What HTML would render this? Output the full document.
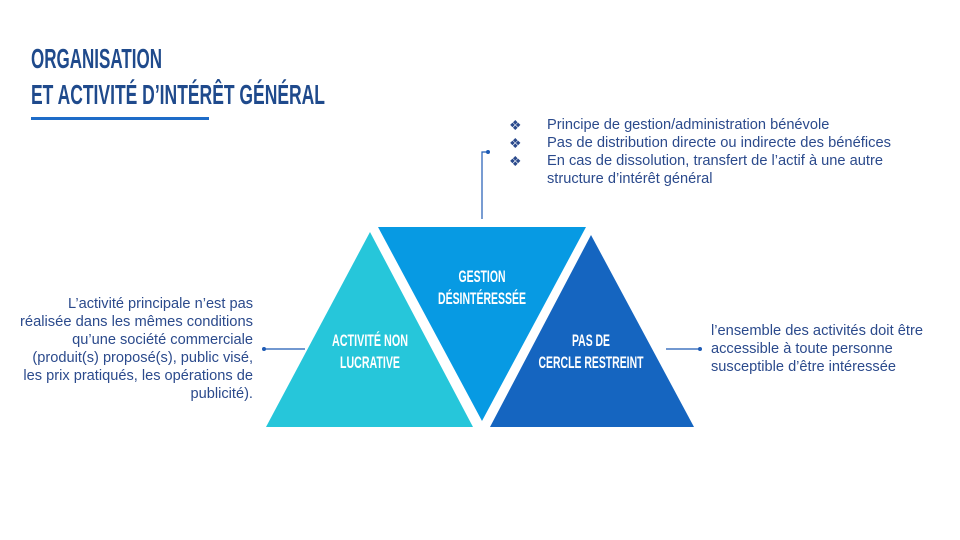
<!DOCTYPE html>
<html><head><meta charset="utf-8"><style>
html,body{margin:0;padding:0;background:#fff;}
svg{display:block;}
.t{font-family:"Liberation Sans",sans-serif;font-size:14.6px;fill:#2b4a8c;}
.h{font-family:"Liberation Sans",sans-serif;font-weight:bold;fill:#1f4a8c;}
.w{font-family:"Liberation Sans",sans-serif;font-weight:bold;fill:#fff;font-size:16.5px;}
</style></head><body>
<svg width="960" height="540" viewBox="0 0 960 540" xmlns="http://www.w3.org/2000/svg">
<text class="h" x="31" y="68" font-size="28" textLength="131" lengthAdjust="spacingAndGlyphs">ORGANISATION</text>
<text class="h" x="31" y="104" font-size="28" textLength="294" lengthAdjust="spacingAndGlyphs">ET ACTIVITÉ D’INTÉRÊT GÉNÉRAL</text>
<rect x="31" y="117" width="178" height="3" fill="#1e6cc8"/>

<polygon points="370,232 473,427 266,427" fill="#26c6da"/>
<polygon points="378,227 586,227 482,421" fill="#079ae3"/>
<polygon points="591,235 694,427 490,427" fill="#1565c0"/>

<text class="w" x="370" y="346" text-anchor="middle" textLength="76" lengthAdjust="spacingAndGlyphs">ACTIVITÉ NON</text>
<text class="w" x="370" y="368" text-anchor="middle" textLength="60" lengthAdjust="spacingAndGlyphs">LUCRATIVE</text>
<text class="w" x="482" y="282" text-anchor="middle" textLength="47" lengthAdjust="spacingAndGlyphs">GESTION</text>
<text class="w" x="482" y="304" text-anchor="middle" textLength="88" lengthAdjust="spacingAndGlyphs">DÉSINTÉRESSÉE</text>
<text class="w" x="591" y="346" text-anchor="middle" textLength="38" lengthAdjust="spacingAndGlyphs">PAS DE</text>
<text class="w" x="591" y="368" text-anchor="middle" textLength="105" lengthAdjust="spacingAndGlyphs">CERCLE RESTREINT</text>

<g stroke="#1e5bb5" stroke-width="1.2" fill="none">
<line x1="264" y1="349" x2="305" y2="349"/>
<line x1="666" y1="349" x2="700" y2="349"/>
<polyline points="482,219 482,152 488,152"/>
</g>
<g fill="#1e5bb5">
<circle cx="264" cy="349" r="2"/>
<circle cx="700" cy="349" r="2"/>
<circle cx="488" cy="152" r="2"/>
</g>

<g class="t" text-anchor="end">
<text x="253" y="308">L’activité principale n’est pas</text>
<text x="253" y="326" textLength="233" lengthAdjust="spacingAndGlyphs">réalisée dans les mêmes conditions</text>
<text x="253" y="344">qu’une société commerciale</text>
<text x="253" y="362">(produit(s) proposé(s), public visé,</text>
<text x="253" y="380">les prix pratiqués, les opérations de</text>
<text x="253" y="398">publicité).</text>
</g>
<g class="t">
<text x="711" y="335" textLength="212" lengthAdjust="spacingAndGlyphs">l’ensemble des activités doit être</text>
<text x="711" y="353">accessible à toute personne</text>
<text x="711" y="371">susceptible d’être intéressée</text>
</g>
<g class="t">
<text x="509" y="130" font-size="14">❖</text>
<text x="509" y="148" font-size="14">❖</text>
<text x="509" y="166" font-size="14">❖</text>
<text x="547" y="129">Principe de gestion/administration bénévole</text>
<text x="547" y="147" textLength="344" lengthAdjust="spacingAndGlyphs">Pas de distribution directe ou indirecte des bénéfices</text>
<text x="547" y="165" textLength="336" lengthAdjust="spacingAndGlyphs">En cas de dissolution, transfert de l’actif à une autre</text>
<text x="547" y="183">structure d’intérêt général</text>
</g>
</svg>
</body></html>
